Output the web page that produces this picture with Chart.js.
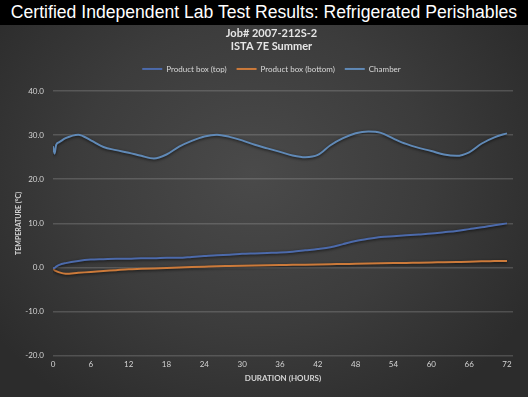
<!DOCTYPE html>
<html>
<head>
<meta charset="utf-8">
<script src="https://cdn.jsdelivr.net/npm/chart.js@4"></script>
<style>
  html, body { margin: 0; padding: 0; background: #000; }
  #bar {
    width: 528px; height: 25px; background: #000; color: #fff;
    font: 17.6px "Liberation Sans", Arial, sans-serif;
    text-align: center; line-height: 25px; white-space: nowrap;
  }
  #wrap {
    position: relative; width: 528px; height: 372px;
    background: radial-gradient(ellipse 60% 75% at 48% 40%, #4a4a4a 0%, #3c3c3c 55%, #2c2c2c 100%);
  }
</style>
</head>
<body>
<div id="bar">Certified Independent Lab Test Results: Refrigerated Perishables</div>
<div id="wrap"><canvas id="labChart" width="528" height="372"></canvas></div>
<script>
// hours since start of test
const hours = [0, 0.25, 0.5, 1, 2, 4, 6, 8, 10, 12, 14, 16, 18, 20, 22, 24, 26, 28, 30, 32, 34, 36,
               38, 40, 42, 44, 46, 48, 50, 52, 54, 56, 58, 60, 62, 64, 66, 68, 70, 72];
// temperatures in °C
const topBox = [-0.2, -0.1, 0.2, 0.6, 1.0, 1.5, 1.8, 1.9, 2.0, 2.0, 2.1, 2.1, 2.2, 2.2, 2.4, 2.6, 2.8, 2.9,
                3.1, 3.2, 3.3, 3.4, 3.6, 3.9, 4.2, 4.6, 5.3, 6.0, 6.5, 6.9, 7.1, 7.3, 7.5, 7.7, 8.0, 8.3,
                8.7, 9.1, 9.6, 10.0];
const bottomBox = [-0.2, -0.6, -0.8, -1.1, -1.4, -1.2, -1.0, -0.8, -0.6, -0.4, -0.3, -0.2, -0.1, 0.0, 0.1,
                   0.2, 0.3, 0.35, 0.4, 0.45, 0.5, 0.55, 0.6, 0.65, 0.7, 0.75, 0.8, 0.85, 0.9, 0.95, 1.0,
                   1.05, 1.1, 1.15, 1.2, 1.25, 1.3, 1.4, 1.45, 1.5];
const chamber = [27.5, 25.8, 27.8, 28.4, 29.3, 30.1, 28.8, 27.3, 26.6, 26.0, 25.3, 24.7, 25.6, 27.4, 28.7,
                 29.7, 30.1, 29.6, 28.8, 27.8, 27.0, 26.2, 25.4, 25.0, 25.5, 27.7, 29.3, 30.4, 30.8, 30.5,
                 29.2, 28.0, 27.1, 26.4, 25.6, 25.3, 26.1, 28.1, 29.5, 30.4];
const xTicks = [0, 6, 12, 18, 24, 30, 36, 42, 48, 54, 60, 66, 72];
const yTicks = [-20, -10, 0, 10, 20, 30, 40];

function pts(vals) {
    return hours.map((h, i) => ({ x: h, y: vals[i] }));
}

const lineShadow = {
    id: 'lineShadow',
    beforeDatasetsDraw(chart) {
        chart.ctx.save();
        chart.ctx.shadowColor = 'rgba(0,0,0,0.7)';
        chart.ctx.shadowBlur = 3;
        chart.ctx.shadowOffsetY = 1;
    },
    afterDatasetsDraw(chart) {
        chart.ctx.restore();
    }
};

const tickColor = '#d4d4d4';
const fontFam = 'Lato, "Open Sans", sans-serif';

const chart = new Chart(document.getElementById('labChart'), {
    type: 'line',
    data: {
        datasets: [{
            label: 'Product box (top)',
            data: pts(topBox),
            borderColor: '#4c6aab',
            backgroundColor: '#4c6aab',
            borderWidth: 2
        }, {
            label: 'Product box (bottom)',
            data: pts(bottomBox),
            borderColor: '#cc7a3a',
            backgroundColor: '#cc7a3a',
            borderWidth: 2
        }, {
            label: 'Chamber',
            data: pts(chamber),
            borderColor: '#6089b6',
            backgroundColor: '#6089b6',
            borderWidth: 2
        }]
    },
    options: {
        responsive: false,
        animation: false,
        layout: { padding: { left: 15, right: 0, top: 0, bottom: 14 } },
        elements: {
            point: { radius: 0 },
            line: { tension: 0.4, cubicInterpolationMode: 'monotone' }
        },
        plugins: {
            title: {
                display: true,
                text: ['Job# 2007-212S-2', 'ISTA 7E Summer'],
                color: '#e6e6e6',
                font: { family: fontFam, size: 11, weight: 'bold', lineHeight: 1.18 },
                padding: { top: 2, bottom: 2 }
            },
            legend: {
                labels: {
                    color: '#d8d8d8',
                    font: { family: fontFam, size: 8 },
                    usePointStyle: true,
                    pointStyle: 'line',
                    pointStyleWidth: 20,
                    boxHeight: 8,
                    padding: 10
                }
            },
            tooltip: { enabled: false }
        },
        scales: {
            x: {
                type: 'linear',
                min: 0,
                max: 72.95,
                afterBuildTicks: function(scale) {
                    scale.ticks = xTicks.map(v => ({ value: v }));
                },
                grid: { display: false, drawTicks: false },
                border: { display: false },
                ticks: { color: tickColor, font: { family: fontFam, size: 8 }, padding: 4, maxRotation: 0 },
                title: {
                    display: true,
                    text: 'DURATION (HOURS)',
                    color: tickColor,
                    font: { family: fontFam, size: 8, weight: 'bold' },
                    padding: { top: 0, bottom: 0 }
                }
            },
            y: {
                min: -20,
                max: 40,
                afterBuildTicks: function(scale) {
                    scale.ticks = yTicks.map(v => ({ value: v }));
                },
                afterFit: function(scale) { scale.width = 38; },
                grid: { color: 'rgba(200,200,200,0.22)', lineWidth: 1.5, drawTicks: false },
                border: { display: false },
                ticks: {
                    color: tickColor,
                    font: { family: fontFam, size: 8 },
                    padding: 9,
                    callback: v => v.toFixed(1)
                },
                title: {
                    display: true,
                    text: 'TEMPERATURE (°C)',
                    color: tickColor,
                    font: { family: fontFam, size: 7, weight: 'bold' },
                    padding: 0
                }
            },
            // empty right-hand strip so the plot ends short of the canvas edge
            yRight: {
                position: 'right',
                grid: { display: false, drawTicks: false },
                border: { display: false },
                ticks: { display: false },
                afterFit: function(scale) { scale.width = 15; }
            }
        }
    },
    plugins: [lineShadow]
});

// leave a bit more room under the legend, as in the original
const legendFit = chart.legend.fit;
chart.legend.fit = function() {
    legendFit.call(this);
    this.height += 8;
};
chart.update();
</script>
</body>
</html>
